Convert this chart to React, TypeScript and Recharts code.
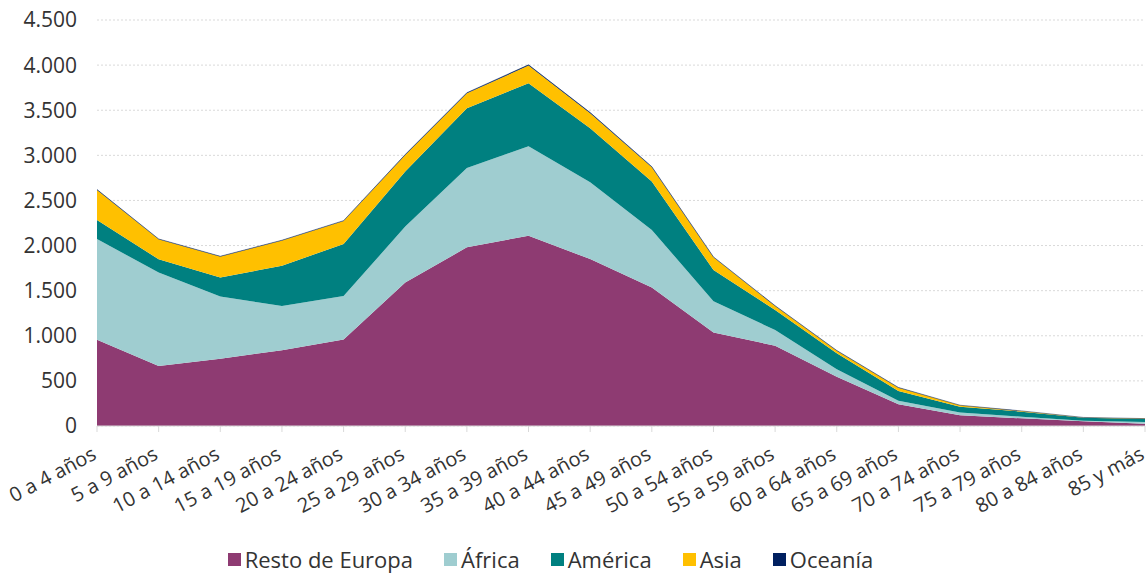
import { AreaChart, Area, XAxis, YAxis, CartesianGrid, Legend } from 'recharts';

const AGE_GROUPS = [
    '0 a 4 años', '5 a 9 años', '10 a 14 años', '15 a 19 años', '20 a 24 años',
    '25 a 29 años', '30 a 34 años', '35 a 39 años', '40 a 44 años', '45 a 49 años',
    '50 a 54 años', '55 a 59 años', '60 a 64 años', '65 a 69 años', '70 a 74 años',
    '75 a 79 años', '80 a 84 años', '85 y más',
];

const RESTO_EUROPA = [955, 665, 745, 840, 960, 1590, 1980, 2110, 1850, 1535, 1035, 890, 547, 240, 118, 85, 52, 25];
const AFRICA = [1118, 1035, 690, 490, 480, 620, 880, 990, 852, 638, 347, 174, 82, 41, 33, 18, 7, 18];
const AMERICA = [211, 148, 211, 447, 577, 610, 662, 699, 598, 536, 347, 222, 177, 107, 63, 56, 33, 35];
const ASIA = [332, 222, 232, 278, 255, 184, 166, 196, 167, 159, 141, 44, 29, 37, 15, 7, 3, 4];
const OCEANIA = [5, 3, 3, 4, 4, 5, 6, 8, 7, 6, 4, 3, 2, 2, 1, 1, 0, 0];

const Y_TICKS = [0, 500, 1000, 1500, 2000, 2500, 3000, 3500, 4000, 4500];

const SERIES = [
    { key: 'resto', name: 'Resto de Europa', color: '#8E3B72' },
    { key: 'africa', name: 'África', color: '#9FCDD0' },
    { key: 'america', name: 'América', color: '#008080' },
    { key: 'asia', name: 'Asia', color: '#FFC000' },
    { key: 'oceania', name: 'Oceanía', color: '#002060' },
];

const data = AGE_GROUPS.map((label, i) => ({
    label,
    resto: RESTO_EUROPA[i],
    africa: AFRICA[i],
    america: AMERICA[i],
    asia: ASIA[i],
    oceania: OCEANIA[i],
}));

const FONT = '"Open Sans", sans-serif';
const TEXT = '#333333';

// 4500 -> "4.500"
const fmt = (v: number) => String(v).replace(/\B(?=(\d{3})+(?!\d))/g, '.');

// rotated label, top-right corner sits at the tick
function AgeTick({ x, y, payload }: any) {
    return (
        <g transform={`translate(${x - 6},${y})`}>
            <text x={0} y={0} dy={14} textAnchor="end" transform="rotate(-28)" fill={TEXT} fontSize={20} fontFamily={FONT}>
                {payload.value}
            </text>
        </g>
    );
}

function LegendContent() {
    return (
        <div style={{ display: 'flex', justifyContent: 'center', gap: 31, fontFamily: FONT, fontSize: 22, color: TEXT, lineHeight: '30px', paddingRight: 44 }}>
            {SERIES.map((s) => (
                <div key={s.key} style={{ display: 'flex', alignItems: 'center', gap: 4 }}>
                    <span style={{ width: 13, height: 13, background: s.color, display: 'inline-block' }} />
                    <span>{s.name}</span>
                </div>
            ))}
        </div>
    );
}

export default function App() {
    return (
        <div style={{ position: 'absolute', left: 0, top: 0, width: 1147, height: 577, background: '#fff' }}>
            <AreaChart width={1147} height={577} data={data} margin={{ top: 20, right: 2, left: 0, bottom: 0 }}>
                <CartesianGrid vertical={false} stroke="#d9d9d9" strokeDasharray="2 2" />
                <XAxis
                    dataKey="label"
                    interval={0}
                    height={118}
                    tick={<AgeTick />}
                    stroke="#d9d9d9"
                    tickSize={6}
                    tickMargin={14}
                />
                <YAxis
                    width={97}
                    domain={[0, 4500]}
                    ticks={Y_TICKS}
                    tickFormatter={fmt}
                    axisLine={false}
                    tickLine={false}
                    tickMargin={14}
                    tick={{ fill: TEXT, fontSize: 21, fontFamily: FONT }}
                />
                <Legend verticalAlign="bottom" height={33} content={<LegendContent />} />
                {SERIES.map((s) => (
                    <Area
                        key={s.key}
                        type="linear"
                        dataKey={s.key}
                        name={s.name}
                        stackId="1"
                        stroke={s.key === 'oceania' ? s.color : 'none'}
                        strokeWidth={s.key === 'oceania' ? 0.5 : 0}
                        fill={s.color}
                        fillOpacity={1}
                        isAnimationActive={false}
                    />
                ))}
            </AreaChart>
        </div>
    );
}
